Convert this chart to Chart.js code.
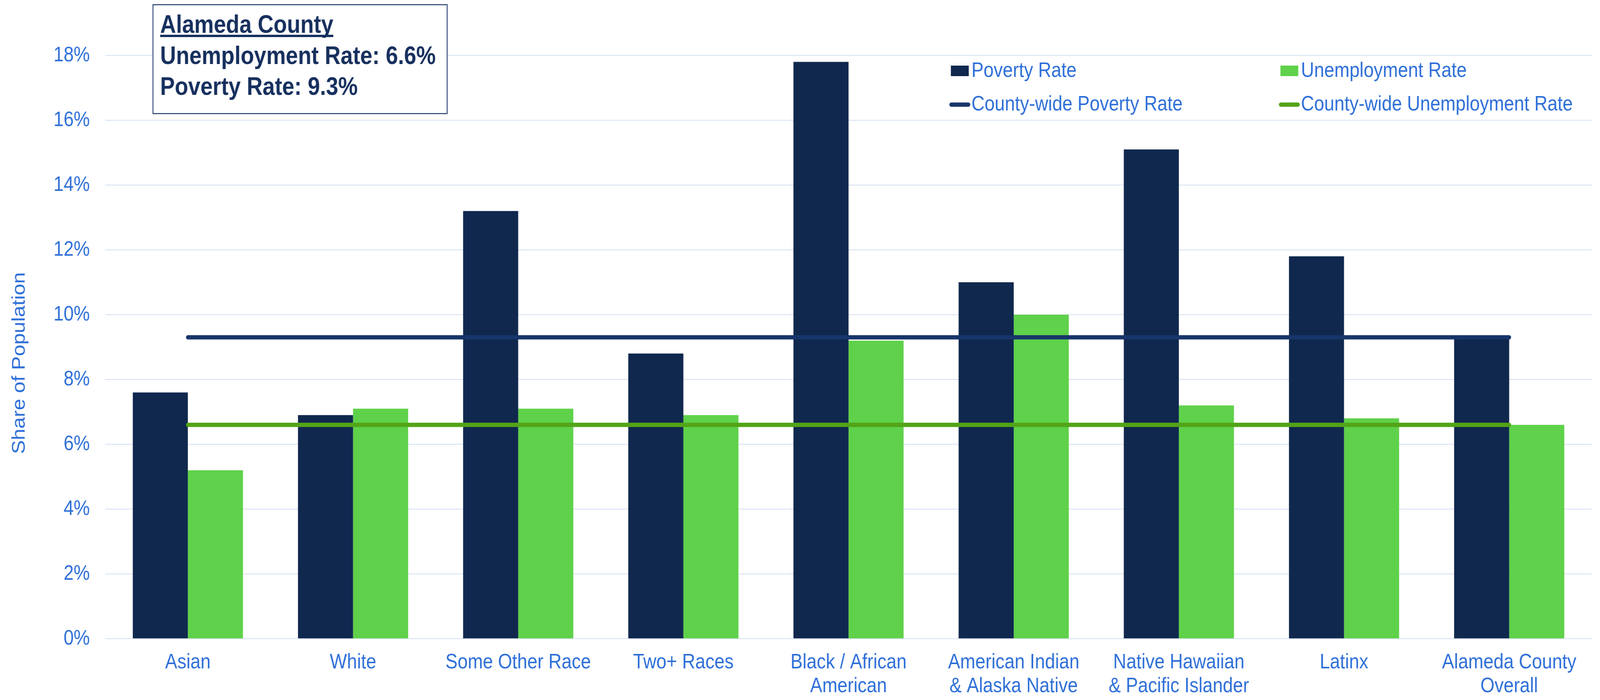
<!DOCTYPE html>
<html>
<head>
<meta charset="utf-8">
<title>Alameda County - Poverty and Unemployment by Race</title>
<script src="https://cdn.jsdelivr.net/npm/chart.js@4.4.1/dist/chart.umd.min.js"></script>
<style>
  html, body { margin: 0; padding: 0; background: #ffffff; overflow: hidden; }
  #wrap { position: absolute; left: 0; top: 0; width: 4666px; height: 1793px; transform-origin: 0 0; }
  #chart { display: block; }
</style>
</head>
<body>
<div id="wrap"><canvas id="chart" width="4666" height="1793"></canvas></div>
<script>
"use strict";

const categories = [
  "Asian",
  "White",
  "Some Other Race",
  "Two+ Races",
  ["Black / African", "American"],
  ["American Indian", "& Alaska Native"],
  ["Native Hawaiian", "& Pacific Islander"],
  "Latinx",
  ["Alameda County", "Overall"],
];

const povertyRate = [7.6, 6.9, 13.2, 8.8, 17.8, 11.0, 15.1, 11.8, 9.3];
const unemploymentRate = [5.2, 7.1, 7.1, 6.9, 9.2, 10.0, 7.2, 6.8, 6.6];
const countyPovertyLine = [9.3, 9.3, 9.3, 9.3, 9.3, 9.3, 9.3, 9.3, 9.3];
const countyUnemploymentLine = [6.6, 6.6, 6.6, 6.6, 6.6, 6.6, 6.6, 6.6, 6.6];
const yTicks = [0, 2, 4, 6, 8, 10, 12, 14, 16, 18];

const countyName = "Alameda County";
const countyUnemployment = 6.6;
const countyPoverty = 9.3;

const BLUE_TEXT = "#2E6FD8";
const NAVY_TEXT = "#17305E";
const FONT = '"Liberation Sans", Arial, sans-serif';

Chart.defaults.font.family = FONT;

// the chart is laid out at 4666x1793, then fitted to whatever the window really is
const wrap = document.getElementById("wrap");
const fitToWindow = () => {
  const kx = window.innerWidth / 4666;
  const ky = window.innerHeight / 1793;
  wrap.style.transform = `scale(${kx}, ${ky})`;
};
fitToWindow();

// ? Text box, 2x2 legend and y title (drawn by hand to sit where the original does)
const overlayPlugin = {
  id: "overlay",
  afterDraw(chart) {
    const ctx = chart.ctx;
    ctx.save();

    // y axis title
    ctx.save();
    ctx.translate(72, 930);
    ctx.rotate(-Math.PI / 2);
    ctx.font = `53px ${FONT}`;
    ctx.fillStyle = BLUE_TEXT;
    ctx.textAlign = "center";
    ctx.textBaseline = "alphabetic";
    ctx.fillText("Share of Population", 0, 0);
    ctx.restore();

    // county box
    ctx.fillStyle = "#ffffff";
    ctx.fillRect(446, 12, 858, 279);
    ctx.strokeStyle = "#1F3A6B";
    ctx.lineWidth = 2.5;
    ctx.strokeRect(446, 12, 858, 279);

    ctx.font = `bold 64px ${FONT}`;
    ctx.fillStyle = NAVY_TEXT;
    ctx.textAlign = "left";
    ctx.textBaseline = "alphabetic";
    ctx.fillText(countyName, 467, 84);
    const nameWidth = ctx.measureText(countyName).width;
    ctx.fillRect(467, 89, nameWidth, 6);
    ctx.fillText(`Unemployment Rate: ${countyUnemployment.toFixed(1)}%`, 467, 164);
    ctx.fillText(`Poverty Rate: ${countyPoverty.toFixed(1)}%`, 467, 243);

    // legend
    const cols = [2773, 3734];
    const rows = [182, 268];
    ctx.font = `53px ${FONT}`;
    chart.data.datasets.forEach((ds, i) => {
      const x = cols[i % 2];
      const y = rows[Math.floor(i / 2)];
      if (ds.type === "line") {
        ctx.strokeStyle = ds.borderColor;
        ctx.lineWidth = 11;
        ctx.lineCap = "round";
        ctx.beginPath();
        ctx.moveTo(x + 1, y);
        ctx.lineTo(x + 51, y);
        ctx.stroke();
      } else {
        ctx.fillStyle = ds.backgroundColor;
        ctx.fillRect(x, y - 14, 52, 27);
      }
      ctx.fillStyle = BLUE_TEXT;
      ctx.fillText(ds.label, x + 60, y + 15);
    });

    ctx.restore();
  },
};

const ctx = document.getElementById("chart").getContext("2d");

new Chart(ctx, {
  type: "bar",
  data: {
    labels: categories,
    datasets: [
      {
        label: "Poverty Rate",
        data: povertyRate,
        backgroundColor: "#10284E",
        categoryPercentage: 0.667,
        barPercentage: 1.0,
        order: 1,
      },
      {
        label: "Unemployment Rate",
        data: unemploymentRate,
        backgroundColor: "#5FD14A",
        categoryPercentage: 0.667,
        barPercentage: 1.0,
        order: 1,
      },
      {
        type: "line",
        label: "County-wide Poverty Rate",
        data: countyPovertyLine,
        borderColor: "#17356B",
        borderWidth: 11,
        borderCapStyle: "round",
        pointRadius: 0,
        tension: 0,
        fill: false,
        order: 0,
      },
      {
        type: "line",
        label: "County-wide Unemployment Rate",
        data: countyUnemploymentLine,
        borderColor: "#53A417",
        borderWidth: 11,
        borderCapStyle: "round",
        pointRadius: 0,
        tension: 0,
        fill: false,
        order: 0,
      },
    ],
  },
  options: {
    responsive: false,
    animation: false,
    devicePixelRatio: 1,
    layout: {
      padding: { top: 142, right: 24, bottom: 0, left: 0 },
    },
    plugins: {
      legend: { display: false },
      tooltip: { enabled: false },
    },
    scales: {
      x: {
        grid: { display: false, drawTicks: false },
        border: { display: false },
        ticks: {
          color: BLUE_TEXT,
          font: { size: 53, lineHeight: 1.15 },
          padding: 31,
          maxRotation: 0,
          minRotation: 0,
          autoSkip: false,
        },
        afterFit: (scale) => {
          scale.height = 157;
        },
      },
      y: {
        min: 0,
        max: 18,
        afterBuildTicks: (scale) => {
          scale.ticks = yTicks.map((v) => ({ value: v }));
        },
        grid: { color: "#D4E0F4", lineWidth: 2, drawTicks: false },
        border: { display: false },
        ticks: {
          color: BLUE_TEXT,
          font: { size: 53 },
          padding: 45,
          callback: (v) => `${v}%`,
        },
        afterFit: (scale) => {
          scale.width = 307;
        },
      },
    },
  },
  plugins: [overlayPlugin],
});
</script>
</body>
</html>
